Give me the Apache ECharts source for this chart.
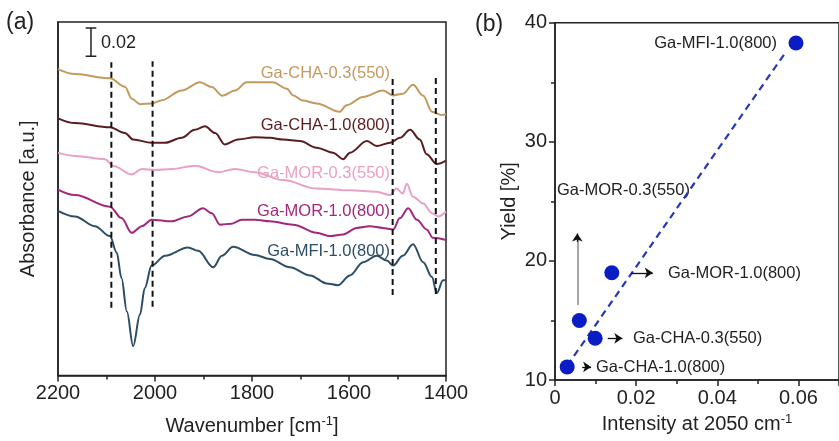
<!DOCTYPE html>
<html><head><meta charset="utf-8">
<script src="https://cdn.jsdelivr.net/npm/echarts@6/dist/echarts.min.js"></script>
<style>html,body{margin:0;padding:0;background:#fff}#c{width:839px;height:441px}</style>
</head><body><div id="c"></div>
<script>
// ---------- Panel (a): IR spectra (wavenumber, absorbance incl. offset) ----------
const spectraNames = ['Ga-CHA-0.3(550)','Ga-CHA-1.0(800)','Ga-MOR-0.3(550)','Ga-MOR-1.0(800)','Ga-MFI-1.0(800)'];
const spectraColors = ['#c39a5e','#5c1b1e','#eaa0c4','#a3287c','#2b4e66'];
const chaLow = [[2200,.2167],[2165,.2132],[2093,.2102],[2062,.2042],[2048,.1958],[2031,.1919],[2007,.1924],[1986,.1947],[1945,.2016],[1907,.2074],[1883,.2040],[1861,.1979],[1835,.2016],[1811,.2074],[1794,.2074],[1757,.2074],[1728,.2028],[1715,.1981],[1695,.1944],[1667,.1924],[1619,.1866],[1605,.1912],[1571,.1970],[1530,.2016],[1509,.1981],[1489,.1993],[1468,.2056],[1447,.1979],[1429,.1866],[1409,.1842],[1400,.1847]];
const chaHigh = [[2200,.1819],[2165,.1785],[2093,.1755],[2062,.1715],[2045,.1669],[2007,.1646],[1979,.1646],[1945,.1681],[1918,.1738],[1897,.1762],[1876,.1715],[1856,.1634],[1829,.1669],[1794,.1685],[1763,.1681],[1736,.1669],[1701,.1658],[1667,.1611],[1633,.1576],[1612,.1530],[1598,.1576],[1563,.1658],[1543,.1623],[1515,.1646],[1495,.1681],[1474,.1738],[1454,.1669],[1440,.1565],[1419,.1495],[1400,.1519]];
const morLow = [[2200,.1576],[2165,.1553],[2103,.1530],[2087,.1484],[2048,.1422],[2027,.1460],[2000,.1453],[1966,.1460],[1918,.1484],[1870,.1438],[1835,.1460],[1794,.1438],[1736,.1382],[1667,.1322],[1598,.1310],[1543,.1299],[1515,.1276],[1502,.1322],[1489,.1287],[1481,.1356],[1468,.1264],[1447,.1217],[1429,.1148],[1416,.1125],[1400,.1160]];
const morHigh = [[2200,.1315],[2165,.1276],[2093,.1194],[2069,.1113],[2048,.1009],[2027,.1056],[2007,.1102],[1966,.1090],[1932,.1125],[1901,.1183],[1883,.1148],[1866,.1067],[1842,.1074],[1821,.1102],[1794,.1102],[1763,.1090],[1715,.1067],[1667,.1009],[1639,.0986],[1612,.0998],[1584,.1044],[1557,.1056],[1530,.1044],[1509,.1033],[1495,.1113],[1478,.1183],[1460,.1102],[1440,.1033],[1427,.0974],[1400,.0958]];
const mfiHigh = [[2200,.1165],[2165,.1125],[2124,.1056],[2093,.0986],[2079,.0870],[2069,.0688],[2058,.0453],[2045,.0208],[2031,.0431],[2021,.0618],[2007,.0778],[1979,.0847],[1932,.0905],[1911,.0882],[1880,.0766],[1862,.0847],[1839,.0910],[1794,.0852],[1763,.0824],[1722,.0766],[1680,.0708],[1646,.0651],[1623,.0639],[1598,.0708],[1571,.0801],[1543,.0847],[1522,.0813],[1509,.0778],[1489,.0847],[1468,.0928],[1447,.0801],[1429,.0697],[1419,.0583],[1406,.0674],[1400,.0674]];
const spectra = [chaLow, chaHigh, morLow, morHigh, mfiHigh];
// dashed band markers
const bandPositions = [2090, 2005, 1510, 1421];
const bandTop = [0.2215, 0.2222, 0.2118, 0.2118];
const bandBottom = [0.0479, 0.0486, 0.0569, 0.0576];
// scale bar (0.02 absorbance)
const scaleBarX = 2132, scaleBarLow = 0.2257, scaleBarHigh = 0.2457, scaleBarCap = 11;
const scaleBarLabel = '0.02';

// ---------- Panel (b): yield vs intensity ----------
const samplesB = ['Ga-MFI-1.0(800)','Ga-MOR-1.0(800)','Ga-MOR-0.3(550)','Ga-CHA-0.3(550)','Ga-CHA-1.0(800)'];
const intensity = [0.0594, 0.0140, 0.0060, 0.0099, 0.0030];
const yieldPct = [38.3, 19.0, 15.0, 13.5, 11.1];
const fitLine = [[0.0030, 11.2], [0.0566, 37.4]];
const arrowsB = [[[0.0188,19.0],[0.0241,19.0]], [[0.0130,13.5],[0.0166,13.5]], [[0.0067,11.1],[0.0089,11.1]]];
const upArrowShaft = [[0.0055,16.3],[0.0055,21.8]];
const upArrowHead = [[0.0055,21.6],[0.0055,22.3]];

const FONT = 'Liberation Sans, Arial, sans-serif';
const TXT = '#222';

const chart = echarts.init(document.getElementById('c'), null, {renderer:'canvas'});

const series = [];
spectra.forEach((d,i)=>{
  series.push({type:'line', xAxisIndex:0, yAxisIndex:0, data:d, symbol:'none', smooth:0.35, smoothMonotone:'x',
    lineStyle:{color:spectraColors[i], width:2}, silent:true, z:3});
});
bandPositions.forEach((x,i)=>{
  series.push({type:'line', xAxisIndex:0, yAxisIndex:0, data:[[x,bandBottom[i]],[x,bandTop[i]]], symbol:'none',
    lineStyle:{color:'#111', width:2, type:[6,4]}, silent:true, z:4});
});
series.push({type:'line', xAxisIndex:0, yAxisIndex:0, data:[[scaleBarX,scaleBarLow],[scaleBarX,scaleBarHigh]], symbol:'none', lineStyle:{color:'#222',width:1.5}, silent:true});
[scaleBarLow, scaleBarHigh].forEach(v=>{
  series.push({type:'line', xAxisIndex:0, yAxisIndex:0, data:[[scaleBarX-scaleBarCap,v],[scaleBarX+scaleBarCap,v]], symbol:'none', lineStyle:{color:'#222',width:1.5}, silent:true});
});
// panel b
series.push({type:'line', xAxisIndex:1, yAxisIndex:1, data:fitLine, symbol:'none', lineStyle:{color:'#2638b8', width:2.2, type:[7,5]}, silent:true, z:2});
series.push({type:'scatter', xAxisIndex:1, yAxisIndex:1, data:intensity.map((x,i)=>[x,yieldPct[i]]), symbolSize:15,
  itemStyle:{color:'#0a1dc4', opacity:1}, z:5,
  markLine:{silent:true, symbol:['none','arrow'], symbolSize:8, label:{show:false},
    lineStyle:{color:'#111', width:1.3, type:'solid'},
    data: arrowsB.map(a=>[{coord:a[0]},{coord:a[1]}]).concat([
      [{coord:upArrowShaft[0], lineStyle:{color:'#888',width:1.5}, symbol:'none'},{coord:upArrowShaft[1], symbol:'none'}],
      [{coord:upArrowHead[0]},{coord:upArrowHead[1]}]
    ])
  }
});

const labelPosA = [[390,73],[390,125],[390,173],[390,211],[390,251]];
const labelPosB = [[777,43,'right'],[668,273,'left'],[557,190,'left'],[633,338,'left'],[596,367,'left']];
const graphics = [];
spectraNames.forEach((n,i)=>graphics.push({type:'text', x:labelPosA[i][0], y:labelPosA[i][1],
  style:{text:n, fill:spectraColors[i], font:'16.5px '+FONT, textAlign:'right', textVerticalAlign:'middle', align:'right', verticalAlign:'middle'}}));
samplesB.forEach((n,i)=>graphics.push({type:'text', x:labelPosB[i][0], y:labelPosB[i][1],
  style:{text:n, fill:TXT, font:'16.5px '+FONT, textAlign:labelPosB[i][2], textVerticalAlign:'middle', align:labelPosB[i][2], verticalAlign:'middle'}}));
graphics.push({type:'text', x:6, y:23, style:{text:'(a)', fill:TXT, font:'23px '+FONT, textVerticalAlign:'middle', verticalAlign:'middle'}});
graphics.push({type:'text', x:475, y:25, style:{text:'(b)', fill:TXT, font:'23px '+FONT, textVerticalAlign:'middle', verticalAlign:'middle'}});
graphics.push({type:'text', x:101, y:43, style:{text:scaleBarLabel, fill:TXT, font:'18px '+FONT, textVerticalAlign:'middle', verticalAlign:'middle'}});

const axisCommon = {
  axisLine:{show:true, lineStyle:{color:TXT, width:1.5}},
  axisTick:{show:true, length:6, lineStyle:{color:TXT, width:1.5}},
  minorTick:{show:true, splitNumber:2, length:4, lineStyle:{color:TXT, width:1.5}},
  axisLabel:{fontSize:20, color:TXT, fontFamily:FONT, margin:8},
  splitLine:{show:false}, minorSplitLine:{show:false},
  nameLocation:'middle',
  nameTextStyle:{fontSize:20, color:TXT, fontFamily:FONT, rich:{sup:{fontSize:13, verticalAlign:'top', color:TXT, fontFamily:FONT, padding:[0,0,10,0]}}}
};

chart.setOption({
  animation:false,
  backgroundColor:'#fff',
  grid:[
    {left:58, top:22, right:393, bottom:59, show:true, borderColor:TXT, borderWidth:1.5},
    {left:555, top:22.7, right:-7, bottom:61, show:true, borderColor:TXT, borderWidth:1.5}
  ],
  xAxis:[
    Object.assign({}, axisCommon, {gridIndex:0, type:'value', min:1400, max:2200, interval:200, inverse:true,
      axisLabel:Object.assign({}, axisCommon.axisLabel, {formatter:v=>String(v)}),
      name:'Wavenumber [cm{sup|-1}]', nameGap:39}),
    Object.assign({}, axisCommon, {gridIndex:1, type:'value', min:0, max:0.07, interval:0.02,
      axisLabel:Object.assign({}, axisCommon.axisLabel, {showMaxLabel:false, formatter:v=>v===0?'0':v.toFixed(2)}),
      name:'Intensity at 2050 cm{sup|-1}', nameGap:29})
  ],
  yAxis:[
    Object.assign({}, axisCommon, {gridIndex:0, type:'value', min:0, max:0.25,
      axisTick:{show:false}, minorTick:{show:false}, axisLabel:{show:false},
      name:'Absorbance [a.u.]', nameGap:20}),
    Object.assign({}, axisCommon, {gridIndex:1, type:'value', min:10, max:40, interval:10,
      name:'Yield [%]', nameGap:36})
  ],
  series: series,
  graphic: graphics
});
</script></body></html>
